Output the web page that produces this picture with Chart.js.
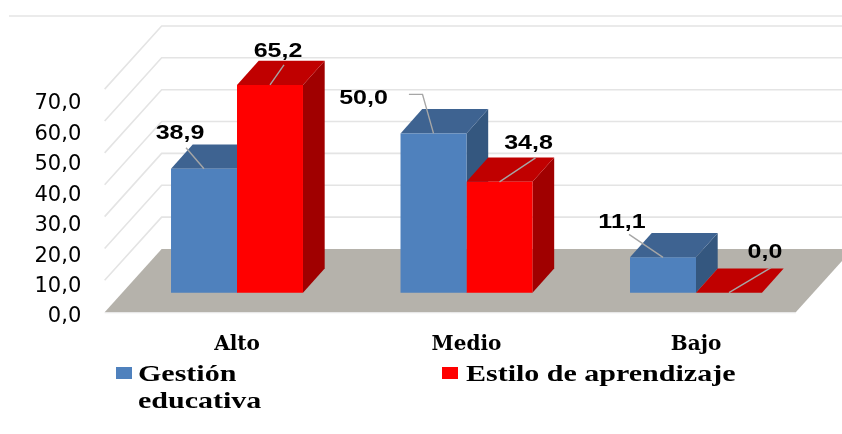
<!DOCTYPE html>
<html lang="es">
<head>
<meta charset="utf-8">
<title>Gestión educativa y estilo de aprendizaje</title>
<script src="https://cdn.jsdelivr.net/npm/chart.js@4/dist/chart.umd.min.js"></script>
<style>
  html, body { margin: 0; padding: 0; background: #fff; }
  #wrap { position: relative; width: 842px; height: 434px; overflow: hidden; }
  canvas { display: block; }
  .sw { position: absolute; width: 16px; height: 12.5px; }
  .tx { position: absolute; font: bold 24px/27px "Liberation Serif", serif; color: #000;
        transform: scaleX(1.25); transform-origin: 0 0; white-space: nowrap; }
</style>
</head>
<body>
<div id="wrap">
  <canvas id="grafico" width="842" height="434"></canvas>
  <div id="leyenda"></div>
</div>
<script>
const categorias = ['Alto', 'Medio', 'Bajo'];
const gestion = [38.9, 50.0, 11.1];
const estilo = [65.2, 34.8, 0.0];
const nombreGestion = ['Gestión', 'educativa'];
const nombreEstilo = ['Estilo de aprendizaje'];
const etiquetasY = ['0,0', '10,0', '20,0', '30,0', '40,0', '50,0', '60,0', '70,0'];
const etiquetasGestion = ['38,9', '50,0', '11,1'];
const etiquetasEstilo = ['65,2', '34,8', '0,0'];

// profundidad de la "caja" 3D respecto al plano de las barras
const FONDO = { dx: 39.4, dy: -43.7 };
const FRENTE = { dx: -17.6, dy: 19.5 };
const BARRA = { dx: 21.7, dy: -24.3 };

const caras = [
  { arriba: '#3e6391', lado: '#34577f' },
  { arriba: '#c00000', lado: '#a00000' }
];

// linea guia y posicion del texto de cada dato, relativo al centro superior de la barra
const guias = [
  [
    { linea: [[-18, -21]], texto: [-24, -35] },
    { linea: [[-11, -39], [-24.6, -39]], texto: [-70, -35] },
    { linea: [[-34, -23]], texto: [-41, -35] }
  ],
  [
    { linea: [[14, -20]], texto: [8, -33] },
    { linea: [[36, -24]], texto: [29, -38] },
    { linea: [[42, -25]], texto: [36, -40] }
  ]
];

function poligono(ctx, pts, color) {
  ctx.fillStyle = color;
  ctx.beginPath();
  pts.forEach((p, i) => i ? ctx.lineTo(p[0], p[1]) : ctx.moveTo(p[0], p[1]));
  ctx.closePath();
  ctx.fill();
}

function linea(ctx, pts, color, ancho) {
  ctx.strokeStyle = color;
  ctx.lineWidth = ancho;
  ctx.beginPath();
  pts.forEach((p, i) => i ? ctx.lineTo(p[0], p[1]) : ctx.moveTo(p[0], p[1]));
  ctx.stroke();
}

const caja3d = {
  id: 'caja3d',
  beforeDatasetsDraw(chart) {
    const ctx = chart.ctx;
    const area = chart.chartArea;
    const y = chart.scales.y;
    const cero = y.getPixelForValue(0);
    const izq = area.left + FRENTE.dx;
    const der = area.right - 15;
    const izqFondo = area.left + FONDO.dx;
    const derFondo = der + FONDO.dx - FRENTE.dx;

    ctx.save();
    // marco superior
    linea(ctx, [[9, 16], [chart.width, 16]], '#e4e4e4', 1.6);
    // paredes
    for (let v = 10; v <= 70; v += 10) {
      const py = y.getPixelForValue(v);
      linea(ctx, [[izq, py + FRENTE.dy], [izqFondo, py + FONDO.dy], [chart.width, py + FONDO.dy]], '#e4e4e4', 1.6);
    }
    // piso
    poligono(ctx, [
      [izq, cero + FRENTE.dy], [der, cero + FRENTE.dy],
      [derFondo, cero + FONDO.dy], [izqFondo, cero + FONDO.dy]
    ], '#b5b2ab');
    linea(ctx, [[izq, cero + FRENTE.dy + 0.6], [der, cero + FRENTE.dy + 0.6]], '#e8e8e8', 1);

    // cara superior y lateral de cada barra
    chart.data.datasets.forEach((ds, d) => {
      chart.getDatasetMeta(d).data.forEach(bar => {
        const r = bar.x + bar.width / 2;
        const l = bar.x - bar.width / 2;
        const t = bar.y;
        const b = bar.base;
        poligono(ctx, [[r, t], [r + BARRA.dx, t + BARRA.dy], [r + BARRA.dx, b + BARRA.dy], [r, b]], caras[d].lado);
        poligono(ctx, [[l, t], [l + BARRA.dx, t + BARRA.dy], [r + BARRA.dx, t + BARRA.dy], [r, t]], caras[d].arriba);
      });
    });
    ctx.restore();
  },
  afterDatasetsDraw(chart) {
    const ctx = chart.ctx;
    const textos = [etiquetasGestion, etiquetasEstilo];
    ctx.save();
    chart.data.datasets.forEach((ds, d) => {
      chart.getDatasetMeta(d).data.forEach((bar, i) => {
        const g = guias[d][i];
        const pts = [[bar.x, bar.y]].concat(g.linea.map(o => [bar.x + o[0], bar.y + o[1]]));
        linea(ctx, pts, '#a6a6a6', 1.4);
        // el original esta estirado a lo ancho
        ctx.save();
        ctx.translate(bar.x + g.texto[0], bar.y + g.texto[1]);
        ctx.scale(1.25, 1);
        ctx.font = 'bold 20px "Liberation Sans", sans-serif';
        ctx.fillStyle = '#000';
        ctx.textAlign = 'center';
        ctx.textBaseline = 'middle';
        ctx.fillText(textos[d][i], 0, 0);
        ctx.restore();
      });
    });
    ctx.restore();
  }
};

const chart = new Chart(document.getElementById('grafico'), {
  type: 'bar',
  plugins: [caja3d],
  data: {
    labels: categorias,
    datasets: [
      { label: nombreGestion, data: gestion, backgroundColor: '#4f81bd', yAxisID: 'y' },
      { label: nombreEstilo, data: estilo, backgroundColor: '#ff0000', yAxisID: 'y' }
    ]
  },
  options: {
    responsive: false,
    animation: false,
    devicePixelRatio: 1,
    categoryPercentage: 0.575,
    barPercentage: 1,
    layout: { padding: { top: 26, left: 35.25, right: 31.25, bottom: 77 } },
    plugins: { legend: { display: false }, tooltip: { enabled: false } },
    scales: {
      x: {
        grid: { display: false },
        border: { display: false },
        afterFit(s) { s.height = 40; },
        ticks: {
          color: '#000',
          padding: 8,
          font: { family: '"DejaVu Serif", serif', weight: 'bold', size: 20 }
        }
      },
      // eje de las barras, plano medio de la caja
      y: { display: false, min: -7.63, max: 83.7 },
      // eje de las etiquetas, en el original no coincide con el de las barras
      yEtiquetas: {
        position: 'left',
        min: 0,
        max: 95.6,
        grid: { display: false, drawTicks: true, tickLength: 41 },
        border: { display: false },
        afterFit(s) { s.width = 87; },
        ticks: {
          stepSize: 10,
          padding: 0,
          autoSkip: false,
          color: '#000',
          font: { family: '"DejaVu Sans", sans-serif', size: 21 },
          callback: (v, i) => etiquetasY[i] || null
        }
      }
    }
  }
});

// leyenda en HTML, las etiquetas de dos lineas no caben en la de Chart.js
const lugares = [{ caja: 116, texto: 138 }, { caja: 442, texto: 465.7 }];
const leyenda = document.getElementById('leyenda');
chart.options.plugins.legend.labels.generateLabels(chart).forEach((item, i) => {
  const sw = document.createElement('div');
  sw.className = 'sw';
  sw.style.left = lugares[i].caja + 'px';
  sw.style.top = '366.7px';
  sw.style.background = item.fillStyle;
  const tx = document.createElement('div');
  tx.className = 'tx';
  tx.style.left = lugares[i].texto + 'px';
  tx.style.top = '360px';
  tx.innerHTML = [].concat(item.text).join('<br>');
  leyenda.append(sw, tx);
});
</script>
</body>
</html>
